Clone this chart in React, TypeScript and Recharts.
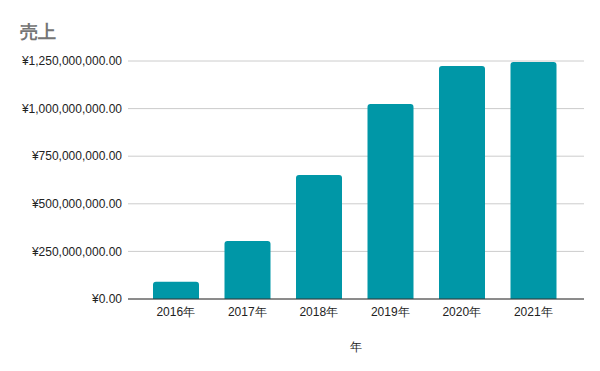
import { BarChart, Bar, XAxis, YAxis, CartesianGrid, Label } from 'recharts'

const years = ['2016年', '2017年', '2018年', '2019年', '2020年', '2021年']
const sales = [90000000, 305000000, 651000000, 1024000000, 1224000000, 1245000000]
const yTicks = [0, 250000000, 500000000, 750000000, 1000000000, 1250000000]

const data = years.map((name, i) => ({ name, sales: sales[i] }))

const FONT = '"Liberation Sans", Arial, sans-serif'

function yen(v: number) {
  return '¥' + v.toLocaleString('en-US', { minimumFractionDigits: 2, maximumFractionDigits: 2 })
}

export default function App() {
  return (
    <div style={{ position: 'absolute', left: 0, top: 0, width: 600, height: 371, background: '#fff', fontFamily: FONT }}>
      <div style={{ position: 'absolute', left: 20, top: 20, fontSize: 18, fontWeight: 'bold', color: '#757575', lineHeight: '24px' }}>売上</div>
      <BarChart width={600} height={371} data={data} margin={{ top: 61, right: 16, left: 0, bottom: 0 }}>
        <CartesianGrid vertical={false} stroke="#cccccc" />
        <XAxis dataKey="name" height={72} tickSize={0} tickMargin={8} padding={{ left: 12, right: 15 }}
          axisLine={{ stroke: '#333333' }} tick={{ fontSize: 12, fill: '#222222', fontFamily: FONT }}>
          <Label value="年" position="insideBottom" offset={20} style={{ fontSize: 12, fill: '#222222', fontFamily: FONT }} />
        </XAxis>
        <YAxis width={128} domain={[0, 1250000000]} ticks={yTicks} tickFormatter={yen} tickSize={0} tickMargin={6}
          axisLine={false} tick={{ fontSize: 12, fill: '#222222', fontFamily: FONT }} />
        <Bar dataKey="sales" fill="#0097a7" barSize={46} radius={[3, 3, 0, 0]} isAnimationActive={false} />
      </BarChart>
    </div>
  )
}
